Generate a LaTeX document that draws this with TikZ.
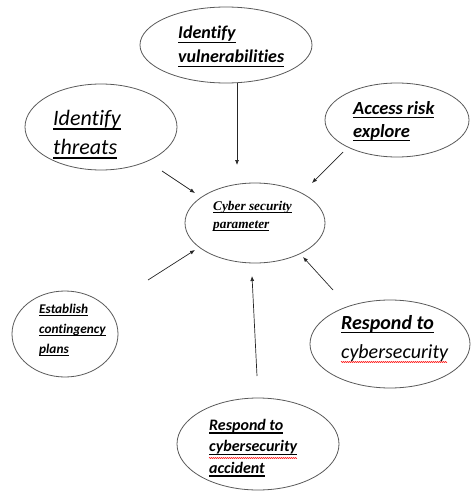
\documentclass[tikz,border=0pt]{standalone}
\usepackage{fontspec}
\setmainfont{Carlito}[Extension=.ttf,UprightFont=*-Regular,BoldFont=*-Bold,ItalicFont=*-Italic,BoldItalicFont=*-BoldItalic,Ligatures=NoCommon]
\newfontfamily\timesfont{Liberation Serif}
\usetikzlibrary{arrows.meta,calc,shapes.geometric,decorations.pathmorphing}
% underline at a fixed depth below the baseline
\newsavebox\ulbox
\newcommand\uln[1]{\sbox\ulbox{#1}\rlap{\rule[-0.22em]{\wd\ulbox}{0.065em}}\usebox\ulbox}

\begin{document}
\begin{tikzpicture}[x=1pt,y=-1pt,
  bubble/.style={draw=black!65,line width=0.8pt,ellipse,inner sep=0pt},
  lbl/.style={anchor=base west,inner sep=0pt,align=left},
  arr/.style={draw=black!85,line width=0.7pt,-{Latex[length=5pt,width=4pt]}},
  spell/.style={red,line width=0.5pt,decorate,decoration={zigzag,amplitude=0.6pt,segment length=2pt}}]
\useasboundingbox (0,0) rectangle (472,492);
% the bubbles
\node[bubble,minimum width=172pt,minimum height=76pt] (vuln) at (226,45) {};
\node[bubble,minimum width=152pt,minimum height=86pt] (threats) at (101,127) {};
\node[bubble,minimum width=144pt,minimum height=74pt] (access) at (397,120) {};
\node[bubble,minimum width=140pt,minimum height=80pt] (hub) at (255,223) {};
\node[bubble,minimum width=106pt,minimum height=86pt] (plans) at (65,334) {};
\node[bubble,minimum width=160pt,minimum height=88pt] (respond) at (390,344) {};
\node[bubble,minimum width=162pt,minimum height=92pt] (accident) at (258,444) {};
% their texts (base = last line)
\node[lbl,font=\bfseries\itshape\fontsize{18}{24}\selectfont] (vuln-txt) at (178,63) {\uln{Identify}\\\uln{vulnerabilities}};
\node[lbl,font=\itshape\fontsize{22}{29}\selectfont] (threats-txt) at (53,154) {\uln{Identify}\\\uln{threats}};
\node[lbl,font=\bfseries\itshape\fontsize{18.5}{23}\selectfont] (access-txt) at (353,137) {\uln{Access risk}\\\uln{explore}};
\node[lbl,font=\timesfont\bfseries\itshape\fontsize{13.3}{18}\selectfont] (hub-txt) at (213,228) {\uln{Cyber security}\\\uln{parameter}};
\node[lbl,font=\bfseries\itshape\fontsize{13.3}{20}\selectfont] (plans-txt) at (39,353) {\uln{Establish}\\\uln{contingency}\\\uln{plans}};
\node[lbl,font=\itshape\fontsize{20}{29}\selectfont] (respond-txt) at (341,358) {{\bfseries\uln{Respond to}}\\cybersecurity};
\node[lbl,font=\bfseries\itshape\fontsize{16}{21.5}\selectfont] (accident-txt) at (209,473) {\uln{Respond to}\\\uln{cybersecurity}\\\uln{accident}};
\draw[spell] ($(respond-txt.base west)+(0,4)$) -- ++(106,0);
\draw[spell] ($(accident-txt.base west)+(0,-15)$) -- ++(88,0);
% arrows into the hub
\draw[arr] ($(vuln)+(11,38)$) -- ($(hub)+(-18,-58)$);
\draw[arr] ($(threats)+(61,44)$) -- ($(hub)+(-60,-30)$);
\draw[arr] ($(access)+(-54,32)$) -- ($(hub)+(57,-40)$);
\draw[arr] ($(plans)+(83,-54)$) -- ($(hub)+(-60,27)$);
\draw[arr] ($(accident)+(-1,-68)$) -- ($(hub)+(-3,53)$);
\draw[arr] ($(respond)+(-57,-54)$) -- ($(hub)+(48,34)$);
\end{tikzpicture}
\end{document}
